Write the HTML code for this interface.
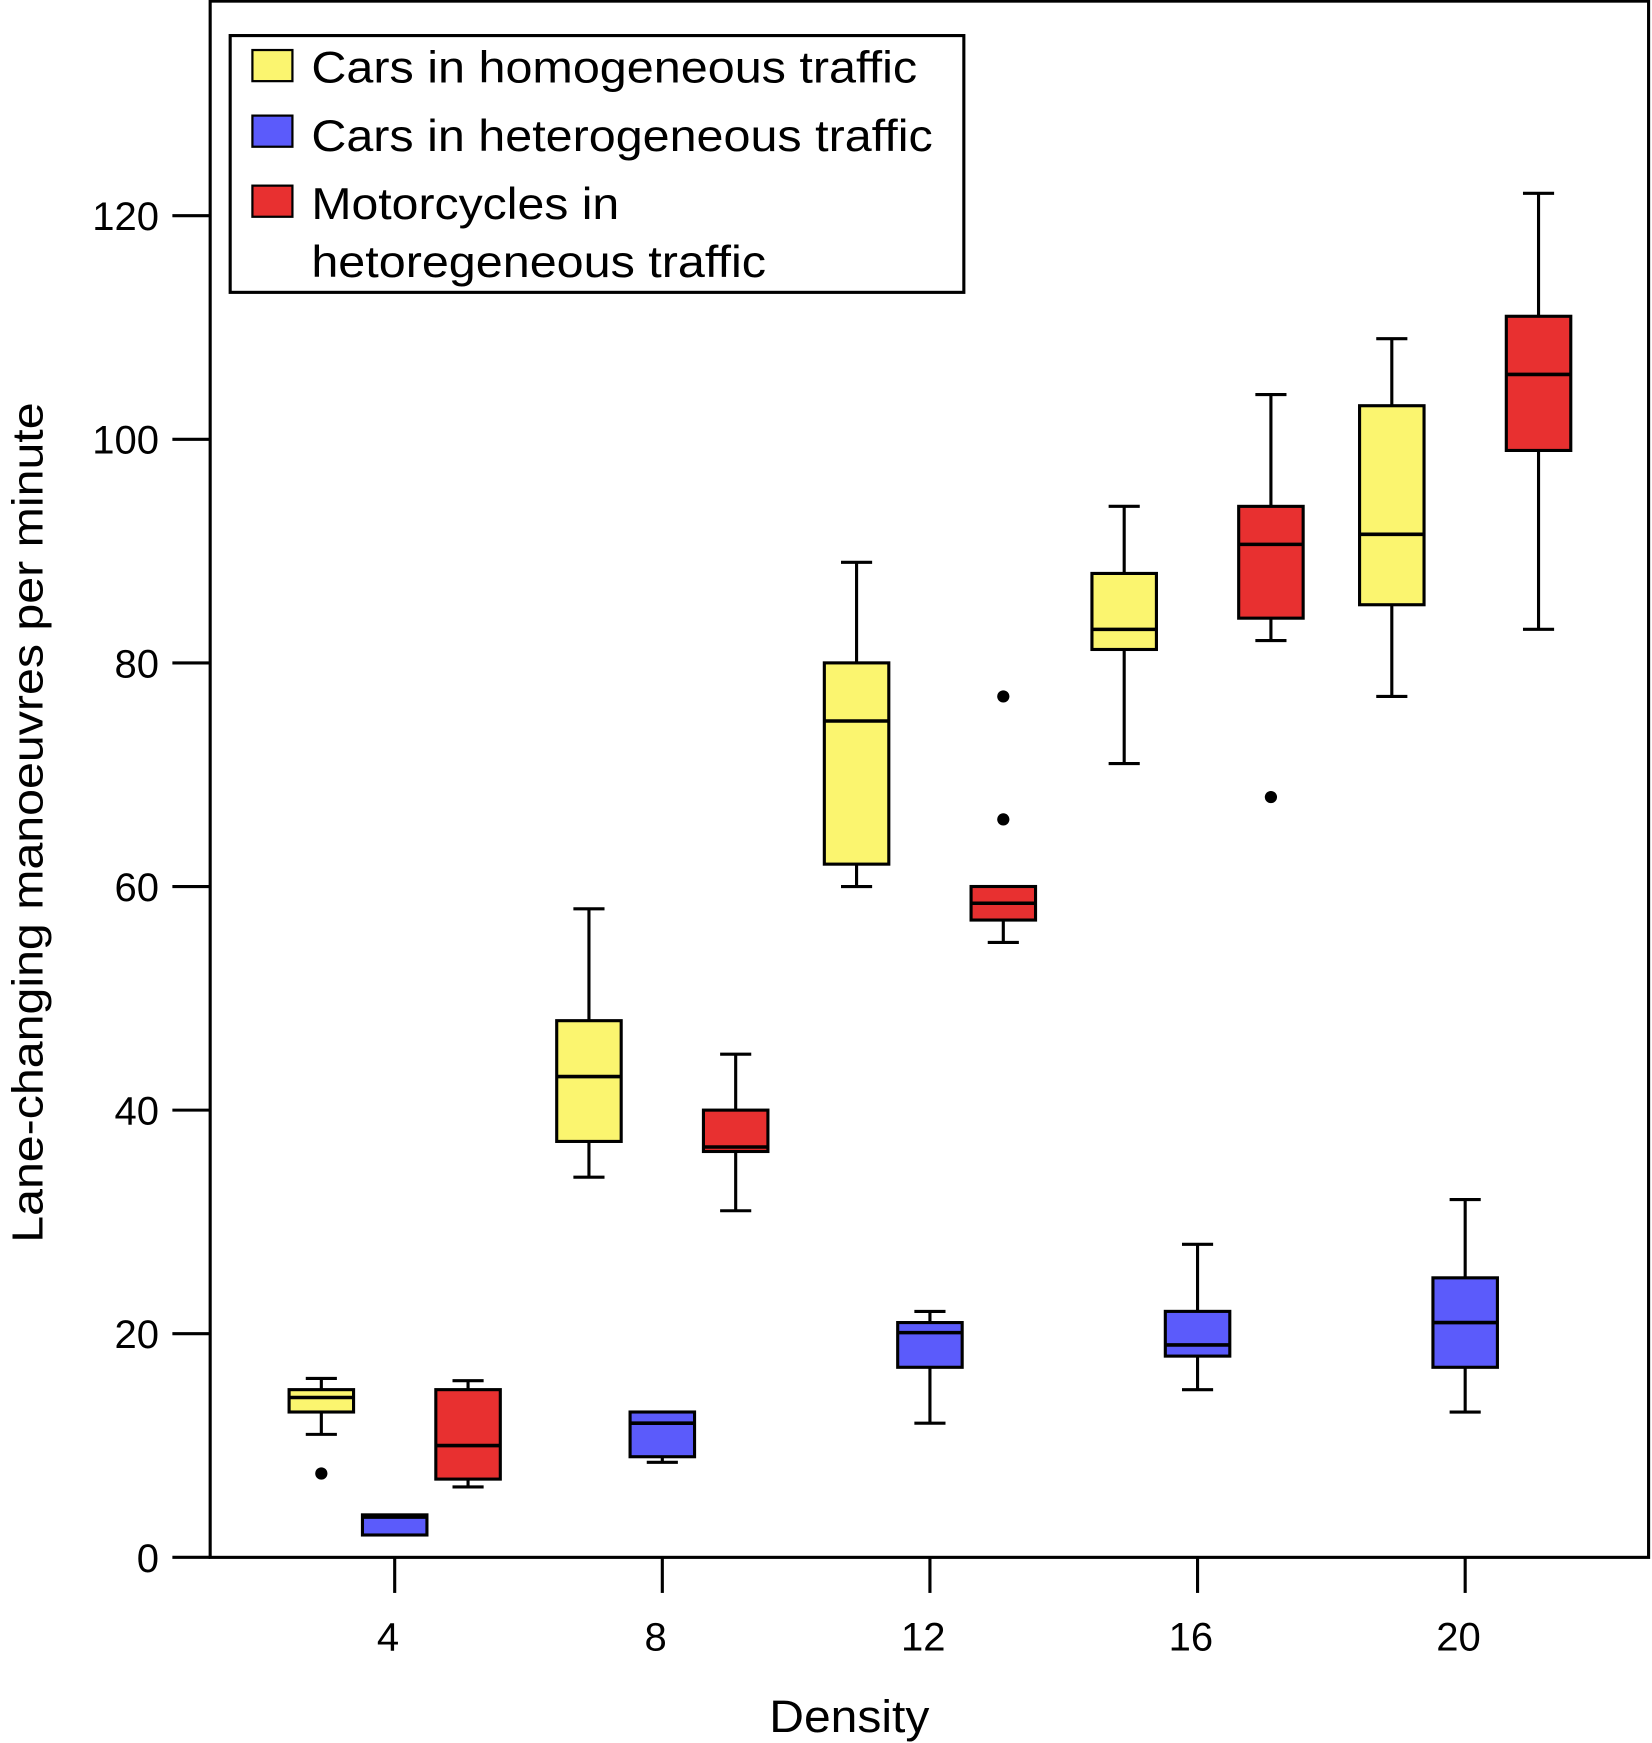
<!DOCTYPE html>
<html><head><meta charset="utf-8"><style>
html,body{margin:0;padding:0;background:#fff}
svg{display:block}
text{font-family:"Liberation Sans",Arial,sans-serif;fill:#000}
</style></head><body>
<svg id="chart" width="1652" height="1743" viewBox="0 0 1486 1568" xmlns="http://www.w3.org/2000/svg">
<rect x="189" y="1" width="1294" height="1400" fill="#fff" stroke="#000" stroke-width="2.8"/>
<g id="ticks"></g>
<g id="boxes"></g>
<text transform="translate(38,740) rotate(-90)" text-anchor="middle" font-size="39" textLength="756" lengthAdjust="spacingAndGlyphs">Lane-changing manoeuvres per minute</text>
<text x="764" y="1558" text-anchor="middle" font-size="41" textLength="144" lengthAdjust="spacingAndGlyphs">Density</text>
<g>
<rect x="207" y="32" width="660" height="231" fill="#fff" stroke="#000" stroke-width="2.8"/>
<rect x="227" y="45" width="36" height="28" fill="#fbf56f" stroke="#000" stroke-width="2"/>
<text x="280" y="74" font-size="40" textLength="545" lengthAdjust="spacingAndGlyphs">Cars in homogeneous traffic</text>
<rect x="227" y="104" width="36" height="28" fill="#5b5bfb" stroke="#000" stroke-width="2"/>
<text x="280" y="136" font-size="40" textLength="559" lengthAdjust="spacingAndGlyphs">Cars in heterogeneous traffic</text>
<rect x="227" y="167" width="36" height="28" fill="#e83030" stroke="#000" stroke-width="2"/>
<text x="280" y="197" font-size="40" textLength="277" lengthAdjust="spacingAndGlyphs">Motorcycles in</text>
<text x="280" y="249" font-size="40" textLength="409" lengthAdjust="spacingAndGlyphs">hetoregeneous traffic</text>
</g>
</svg>
<script>
const densities=[4,8,12,16,20];
const yTicks=[0,20,40,60,80,100,120];
const seriesNames=["homogeneous-cars","heterogeneous-cars","motorcycles"];
const seriesColors=["#fbf56f","#5b5bfb","#e83030"];
// each: [lowWhisker, q1, median, q3, highWhisker] per density
const homCars=[[11,13,14.3,15,16],[34,37.2,43,48,58],[60,62,74.8,80,89],[71,81.2,83,88,94],[77,85.2,91.5,103,109]];
const hetCars=[[2,2,3.6,3.8,3.8],[8.5,9,12,13,13],[12,17,20.1,21,22],[15,18,19,22,28],[13,17,21,25,32]];
const motos=[[6.3,7,10,15,15.8],[31,36.3,36.7,40,45],[55,57,58.5,60,60],[82,84,90.6,94,104],[83,99,105.8,111,122]];
const homOut=[[7.5],[],[],[],[]];
const hetOut=[[],[],[],[],[]];
const motoOut=[[],[],[77,66],[68],[]];
const NS="http://www.w3.org/2000/svg";
function yS(v){return 1401-v*(1401-194)/120;}
function xS(d){return 355+(d-4)*(1318-355)/16;}
function mk(tag,attrs,parent){const e=document.createElementNS(NS,tag);for(const k in attrs)e.setAttribute(k,attrs[k]);parent.appendChild(e);return e;}
const tg=document.getElementById('ticks');
yTicks.forEach(v=>{
  const l=mk('line',{x1:155,x2:189,y1:yS(v),y2:yS(v),stroke:'#000','stroke-width':2.8},tg);
  
  
  const t=mk('text',{x:143,y:yS(v)+13,'text-anchor':'end','font-size':36},tg);
  
  
  t.textContent=v;
});
densities.forEach(d=>{
  const l=mk('line',{x1:xS(d),x2:xS(d),y1:1401,y2:1433,stroke:'#000','stroke-width':2.8},tg);
  
  
  const t=mk('text',{x:xS(d)-6,y:1485,'text-anchor':'middle','font-size':36},tg);
  
  
  t.textContent=d;
});
const bg=document.getElementById('boxes');
const all=[homCars,hetCars,motos], outs=[homOut,hetOut,motoOut], offs=[-66,0,66];
const W=58,C=14;
all.forEach((ser,si)=>{
  ser.forEach((s,di)=>{
    const cx=xS(densities[di])+offs[si];
    const g=mk('g',{},bg);
    
    
    const a={stroke:'#000','stroke-width':2.8};
    if(s[4]>s[3]){mk('line',Object.assign({x1:cx,x2:cx,y1:yS(s[4]),y2:yS(s[3])},a),g);mk('line',Object.assign({x1:cx-C,x2:cx+C,y1:yS(s[4]),y2:yS(s[4])},a),g);}
    if(s[0]<s[1]){mk('line',Object.assign({x1:cx,x2:cx,y1:yS(s[1]),y2:yS(s[0])},a),g);mk('line',Object.assign({x1:cx-C,x2:cx+C,y1:yS(s[0]),y2:yS(s[0])},a),g);}
    mk('rect',Object.assign({x:cx-W/2,y:yS(s[3]),width:W,height:yS(s[1])-yS(s[3]),fill:seriesColors[si]},a),g);
    mk('line',{x1:cx-W/2,x2:cx+W/2,y1:yS(s[2]),y2:yS(s[2]),stroke:'#000','stroke-width':3.2},g);
    outs[si][di].forEach(o=>{
      const c=mk('circle',{cx:cx,cy:yS(o),r:5.5,fill:'#000'},bg);
      
      
    });
  });
});
</script>
</body></html>
